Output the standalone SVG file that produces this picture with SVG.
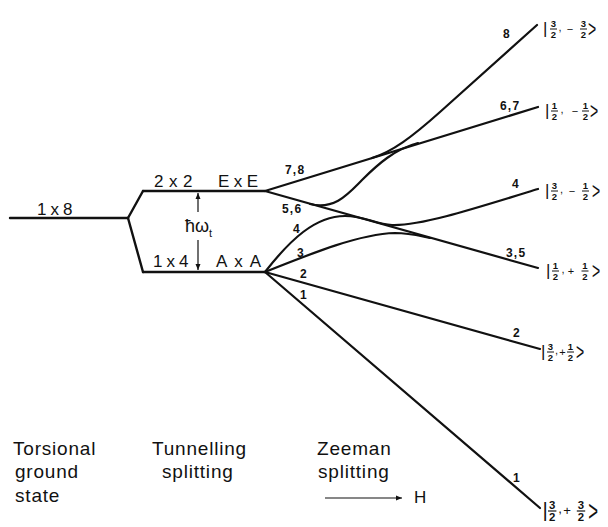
<svg xmlns="http://www.w3.org/2000/svg" width="608" height="527" viewBox="0 0 608 527">
<style>
.ln{fill:none;stroke:#111;stroke-width:2.4;stroke-linecap:round;stroke-linejoin:round}
.zl{fill:none;stroke:#111;stroke-width:2.2;stroke-linecap:round;stroke-linejoin:round}
.thin{fill:none;stroke:#111;stroke-width:1.2}
text{font-family:"Liberation Sans",Arial,sans-serif;fill:#111}
.big{font-size:17px}
.cap{font-size:19px;letter-spacing:0.8px}
.num{font-size:12px;font-weight:bold;letter-spacing:1.2px}
.fr{font-size:9.5px;font-weight:bold;text-anchor:middle}
.sg{font-size:11px;text-anchor:middle}
.bar{font-size:17px}
.ang{font-size:14px}
.fb{stroke:#111;stroke-width:1}
</style>
<defs>
<marker id="ah" markerWidth="8" markerHeight="8" refX="6" refY="4" orient="auto" markerUnits="userSpaceOnUse">
<path d="M0,1.5 L6,4 L0,6.5 Z" fill="#111"/>
</marker>
</defs>

<g id="ground-level">
<line class="ln" x1="10" y1="218" x2="128" y2="218"/>
<text class="big" x="37" y="215" letter-spacing="4">1x8</text>
</g>

<g id="E-level">
<line class="ln" x1="143" y1="191" x2="265" y2="191"/>
<text class="big" x="154" y="187" letter-spacing="5.5">2x2</text>
<text class="big" x="218" y="187" letter-spacing="4.5">ExE</text>
</g>

<g id="A-level">
<line class="ln" x1="143" y1="272" x2="265" y2="272"/>
<text class="big" x="153" y="267" letter-spacing="4">1x4</text>
<text class="big" x="216" y="267" letter-spacing="7">AxA</text>
</g>

<g id="tunnel-gap">
<line class="thin" x1="198" y1="212" x2="198" y2="193" marker-end="url(#ah)"/>
<line class="thin" x1="198" y1="240" x2="198" y2="270" marker-end="url(#ah)"/>
<text x="185" y="232" font-size="18">ħω<tspan font-size="11" dy="5">t</tspan></text>
</g>

<g id="connectors">
<path class="ln" d="M128,218 L143,191"/>
<path class="ln" d="M128,218 L143,272"/>
<path class="zl" d="M265,191 L538,107"/>
<path class="zl" d="M265,191 L538,268"/>
<path class="zl" d="M372,158 C392,152 412,137 440,112 L537,25"/>
<path class="zl" d="M310,204 C335,210 348,194 362,180 C378,164 395,149 418,143"/>
<path class="zl" d="M265,272 C290,240 315,216 345,216 C365,216 375,224 392,225 C420,226 470,210 538,189"/>
<path class="zl" d="M265,272 C315,252 360,234 395,233 C410,233 420,236 430,238"/>
<path class="zl" d="M265,272 L540,349"/>
<path class="zl" d="M265,272 L540,508"/>
</g>

<g id="branch-labels">
<text class="num" x="285" y="174">7,8</text>
<text class="num" x="282" y="213">5,6</text>
<text class="num" x="293" y="233">4</text>
<text class="num" x="297" y="257">3</text>
<text class="num" x="300" y="278">2</text>
<text class="num" x="300" y="299">1</text>
<text class="num" x="503" y="38">8</text>
<text class="num" x="500" y="110">6,7</text>
<text class="num" x="512" y="188">4</text>
<text class="num" x="506" y="257">3,5</text>
<text class="num" x="513" y="337">2</text>
<text class="num" x="513" y="482">1</text>
</g>

<g id="ket-3-2-m3-2" transform="translate(545,29)">
<text class="bar" x="-2" y="5">|</text>
<text class="fr" x="8.5" y="-1.8">3</text><line class="fb" x1="5" y1="0" x2="12" y2="0"/><text class="fr" x="8.5" y="8.6">2</text>
<text class="sg" x="15" y="2">,</text>
<text class="sg" x="25" y="3.5">−</text>
<text class="fr" x="38.5" y="-1.8">3</text><line class="fb" x1="35" y1="0" x2="42" y2="0"/><text class="fr" x="38.5" y="8.6">2</text>
<text class="ang" transform="translate(43,0) scale(1,1.75)" y="4.6">&gt;</text>
</g>

<g id="ket-1-2-m1-2" transform="translate(547,111)">
<text class="bar" x="-2" y="5">|</text>
<text class="fr" x="7.5" y="-1.8">1</text><line class="fb" x1="4" y1="0" x2="11" y2="0"/><text class="fr" x="7.5" y="8.6">2</text>
<text class="sg" x="15" y="2">,</text>
<text class="sg" x="28" y="3.5">−</text>
<text class="fr" x="38.5" y="-1.8">1</text><line class="fb" x1="35" y1="0" x2="42" y2="0"/><text class="fr" x="38.5" y="8.6">2</text>
<text class="ang" transform="translate(43,0) scale(1,1.75)" y="4.6">&gt;</text>
</g>

<g id="ket-3-2-m1-2" transform="translate(547,191)">
<text class="bar" x="-2" y="5">|</text>
<text class="fr" x="7.5" y="-1.8">3</text><line class="fb" x1="4" y1="0" x2="11" y2="0"/><text class="fr" x="7.5" y="8.6">2</text>
<text class="sg" x="14.5" y="2">,</text>
<text class="sg" x="25" y="3.5">−</text>
<text class="fr" x="38.5" y="-1.8">1</text><line class="fb" x1="35" y1="0" x2="42" y2="0"/><text class="fr" x="38.5" y="8.6">2</text>
<text class="ang" transform="translate(45,0) scale(1,1.75)" y="4.6">&gt;</text>
</g>

<g id="ket-1-2-p1-2" transform="translate(548,271)">
<text class="bar" x="-2" y="5">|</text>
<text class="fr" x="7.5" y="-1.8">1</text><line class="fb" x1="4" y1="0" x2="11" y2="0"/><text class="fr" x="7.5" y="8.6">2</text>
<text class="sg" x="15" y="2">,</text>
<text class="sg" x="23" y="3.5">+</text>
<text class="fr" x="37" y="-1.8">1</text><line class="fb" x1="33.5" y1="0" x2="40.5" y2="0"/><text class="fr" x="37" y="8.6">2</text>
<text class="ang" transform="translate(44,0) scale(1,1.75)" y="4.6">&gt;</text>
</g>

<g id="ket-3-2-p1-2" transform="translate(543,352)">
<text class="bar" x="-2" y="5">|</text>
<text class="fr" x="7.5" y="-1.8">3</text><line class="fb" x1="4" y1="0" x2="11" y2="0"/><text class="fr" x="7.5" y="8.6">2</text>
<text class="sg" x="13.5" y="2">,</text>
<text class="sg" x="19.5" y="3.5">+</text>
<text class="fr" x="27.5" y="-1.8">1</text><line class="fb" x1="24" y1="0" x2="31" y2="0"/><text class="fr" x="27.5" y="8.6">2</text>
<text class="ang" transform="translate(33,0) scale(1,1.75)" y="4.6">&gt;</text>
</g>

<g id="ket-3-2-p3-2" transform="translate(545,511) scale(1.2)">
<text class="bar" x="-2" y="5">|</text>
<text class="fr" x="6" y="-1.8">3</text><line class="fb" x1="2.5" y1="0" x2="9.5" y2="0"/><text class="fr" x="6" y="8.6">2</text>
<text class="sg" x="12.5" y="2">,</text>
<text class="sg" x="18.5" y="3.5">+</text>
<text class="fr" x="30" y="-1.8">3</text><line class="fb" x1="26.5" y1="0" x2="33.5" y2="0"/><text class="fr" x="30" y="8.6">2</text>
<text class="ang" transform="translate(36,0) scale(1,1.75)" y="4.6">&gt;</text>
</g>

<g id="caption-torsional">
<text class="cap" x="13" y="455">Torsional</text>
<text class="cap" x="15" y="478">ground</text>
<text class="cap" x="15" y="502">state</text>
</g>
<g id="caption-tunnelling">
<text class="cap" x="152" y="455">Tunnelling</text>
<text class="cap" x="162" y="478">splitting</text>
</g>
<g id="caption-zeeman">
<text class="cap" x="317" y="455">Zeeman</text>
<text class="cap" x="318" y="478">splitting</text>
<line class="thin" x1="325" y1="498" x2="402" y2="498" marker-end="url(#ah)"/>
<text class="big" x="414" y="503">H</text>
</g>
</svg>
